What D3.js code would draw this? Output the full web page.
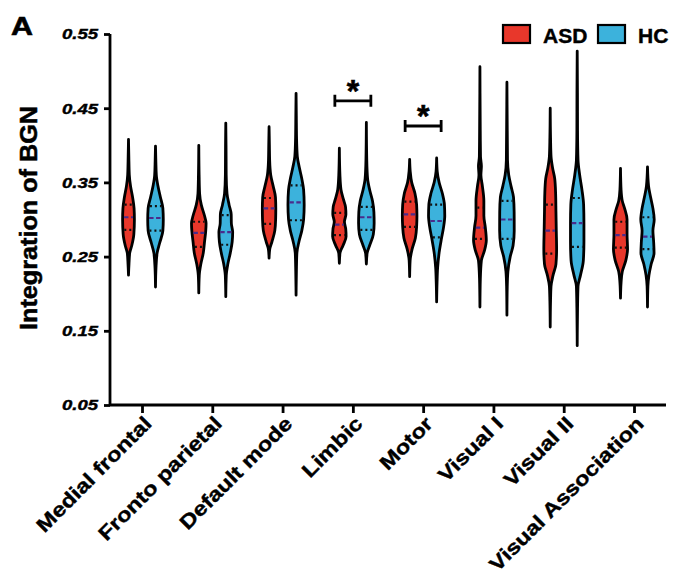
<!DOCTYPE html>
<html>
<head>
<meta charset="utf-8">
<script src="https://cdn.jsdelivr.net/npm/d3@7"></script>
<style>
    body { margin: 0; background: #fff; }
    text { font-family: "Liberation Sans", Arial, sans-serif; }
</style>
</head>
<body>
<div id="violin-container"></div>
<script>
// Networks on the x axis
const categories = ["Medial frontal", "Fronto parietal", "Default mode", "Limbic",
    "Motor", "Visual I", "Visual II", "Visual Association"];
const groups = ["ASD", "HC"];
const groupColors = ["#e8372b", "#3cb2dc"];
const yTicks = [0.05, 0.15, 0.25, 0.35, 0.45, 0.55];

// Summary lines (median, quartiles)
const asdMedian = [0.303, 0.282, 0.315, 0.293, 0.307, 0.289, 0.285, 0.279];
const asdQ1 = [0.286, 0.263, 0.294, 0.279, 0.290, 0.274, 0.254, 0.262];
const asdQ3 = [0.320, 0.297, 0.329, 0.309, 0.324, 0.316, 0.320, 0.297];
const hcMedian = [0.302, 0.283, 0.323, 0.303, 0.298, 0.300, 0.295, 0.277];
const hcQ1 = [0.285, 0.266, 0.299, 0.286, 0.276, 0.274, 0.263, 0.260];
const hcQ3 = [0.318, 0.306, 0.346, 0.317, 0.320, 0.325, 0.329, 0.303];

// Violin outlines: [value, relative density] from min to max
const asdProfiles = [
    [[0.225,0],[0.240,0.06],[0.255,0.15],[0.265,0.4],[0.280,0.65],[0.300,0.72],[0.315,0.68],[0.330,0.5],[0.345,0.25],[0.360,0.1],[0.385,0.04],[0.408,0]],
    [[0.201,0],[0.225,0.06],[0.240,0.25],[0.255,0.55],[0.270,0.7],[0.285,0.85],[0.295,0.89],[0.305,0.7],[0.320,0.3],[0.335,0.1],[0.360,0.04],[0.400,0]],
    [[0.248,0],[0.260,0.08],[0.270,0.35],[0.285,0.7],[0.300,0.8],[0.315,0.82],[0.330,0.78],[0.345,0.5],[0.360,0.2],[0.380,0.07],[0.400,0.04],[0.425,0]],
    [[0.241,0],[0.255,0.08],[0.265,0.45],[0.277,0.82],[0.287,0.78],[0.297,0.62],[0.307,0.8],[0.317,0.75],[0.327,0.5],[0.340,0.2],[0.360,0.07],[0.396,0]],
    [[0.223,0],[0.245,0.06],[0.260,0.3],[0.275,0.7],[0.290,0.85],[0.305,0.89],[0.320,0.85],[0.335,0.65],[0.350,0.25],[0.365,0.07],[0.381,0]],
    [[0.182,0],[0.220,0.05],[0.245,0.18],[0.258,0.55],[0.272,0.78],[0.290,0.65],[0.305,0.48],[0.325,0.48],[0.345,0.3],[0.360,0.12],[0.372,0.18],[0.385,0.07],[0.420,0.04],[0.506,0]],
    [[0.155,0],[0.190,0.04],[0.210,0.1],[0.225,0.35],[0.240,0.7],[0.260,0.78],[0.285,0.74],[0.310,0.7],[0.335,0.66],[0.355,0.55],[0.370,0.28],[0.385,0.1],[0.410,0.04],[0.450,0]],
    [[0.194,0],[0.215,0.07],[0.230,0.22],[0.245,0.65],[0.260,0.86],[0.280,0.8],[0.300,0.8],[0.315,0.5],[0.325,0.22],[0.340,0.07],[0.369,0]]
];
const hcProfiles = [
    [[0.209,0],[0.235,0.06],[0.255,0.2],[0.268,0.5],[0.285,0.9],[0.300,0.95],[0.315,0.9],[0.330,0.6],[0.345,0.3],[0.360,0.1],[0.380,0.04],[0.399,0]],
    [[0.196,0],[0.225,0.06],[0.240,0.25],[0.255,0.55],[0.270,0.78],[0.283,0.84],[0.295,0.68],[0.307,0.66],[0.320,0.4],[0.335,0.15],[0.360,0.05],[0.400,0.03],[0.430,0]],
    [[0.198,0],[0.230,0.04],[0.255,0.1],[0.270,0.35],[0.285,0.7],[0.300,0.92],[0.320,0.99],[0.340,0.92],[0.355,0.7],[0.370,0.4],[0.385,0.15],[0.410,0.06],[0.440,0.03],[0.470,0]],
    [[0.240,0],[0.255,0.1],[0.265,0.4],[0.280,0.85],[0.295,0.95],[0.310,0.92],[0.325,0.75],[0.340,0.4],[0.355,0.15],[0.380,0.05],[0.431,0]],
    [[0.189,0],[0.215,0.05],[0.235,0.12],[0.255,0.3],[0.275,0.6],[0.290,0.85],[0.305,0.99],[0.320,0.95],[0.335,0.7],[0.350,0.3],[0.365,0.07],[0.383,0]],
    [[0.171,0],[0.210,0.04],[0.230,0.12],[0.250,0.4],[0.265,0.75],[0.285,0.89],[0.310,0.88],[0.330,0.8],[0.345,0.5],[0.360,0.22],[0.380,0.07],[0.420,0.04],[0.485,0]],
    [[0.130,0],[0.180,0.04],[0.210,0.1],[0.225,0.4],[0.245,0.75],[0.270,0.82],[0.295,0.82],[0.320,0.78],[0.340,0.58],[0.360,0.3],[0.380,0.1],[0.420,0.04],[0.470,0.03],[0.527,0]],
    [[0.182,0],[0.210,0.05],[0.225,0.18],[0.240,0.45],[0.255,0.8],[0.270,0.75],[0.285,0.66],[0.300,0.82],[0.315,0.66],[0.330,0.38],[0.345,0.13],[0.371,0]]
];

// Significant differences (category, bracket height)
const sigCategories = ["Limbic", "Motor"];
const sigLevels = [0.460, 0.426];

function renderViolinChart() {
    const container = document.getElementById("violin-container");

    // Set up dimensions
    const width = 680;
    const height = 582;
    const marginTop = 34;
    const marginLeft = 110;
    const axisBottom = 405;
    const axisRight = 666;
    const offset = 13.5;   // ASD left, HC right of the tick
    const textStretch = 1.18;

    const svg = d3.create("svg")
        .attr("viewBox", [0, 0, width, height])
        .attr("width", width)
        .attr("height", height);

    // Create scales
    const x = d3.scalePoint()
        .domain(categories)
        .range([142, 634]);
    const y = d3.scaleLinear()
        .domain([0.05, 0.55])
        .range([axisBottom, marginTop]);
    const w = d3.scaleLinear([0, 1], [0, 8.2]);
    const color = d3.scaleOrdinal(groups, groupColors);

    // Build violin records
    const violins = [];
    categories.forEach((c, i) => {
        violins.push({cat: c, group: "ASD", dx: -offset, profile: asdProfiles[i],
            median: asdMedian[i], q1: asdQ1[i], q3: asdQ3[i]});
        violins.push({cat: c, group: "HC", dx: offset, profile: hcProfiles[i],
            median: hcMedian[i], q1: hcQ1[i], q3: hcQ3[i]});
    });

    const area = d3.area()
        .curve(d3.curveMonotoneY)
        .y(d => y(d[0]));

    const vg = svg.append("g")
        .selectAll("g")
        .data(violins)
        .join("g")
        .attr("transform", d => `translate(${x(d.cat) + d.dx},0)`);

    vg.append("path")
        .attr("d", d => area.x0(p => -w(p[1])).x1(p => w(p[1]))(d.profile))
        .attr("fill", d => color(d.group))
        .attr("stroke", "#000")
        .attr("stroke-width", 2.8)
        .attr("stroke-linejoin", "round");

    // Median and quartile lines across the violin
    function halfWidth(d, v) {
        const interp = d3.scaleLinear(d.profile.map(p => p[0]), d.profile.map(p => p[1]));
        return Math.max(w(interp(v)) - 1.3, 1);
    }

    vg.append("line")
        .attr("x1", d => -halfWidth(d, d.median))
        .attr("x2", d => halfWidth(d, d.median))
        .attr("y1", d => y(d.median))
        .attr("y2", d => y(d.median))
        .attr("stroke", "#4a2c8c")
        .attr("stroke-width", 2.2)
        .attr("stroke-dasharray", "4.5,2.5");

    ["q1", "q3"].forEach(k => {
        vg.append("line")
            .attr("x1", d => -halfWidth(d, d[k]))
            .attr("x2", d => halfWidth(d, d[k]))
            .attr("y1", d => y(d[k]))
            .attr("y2", d => y(d[k]))
            .attr("stroke", "#111")
            .attr("stroke-width", 2.2)
            .attr("stroke-dasharray", "2,3");
    });

    // Y axis
    svg.append("g")
        .attr("transform", `translate(${marginLeft},0)`)
        .call(d3.axisLeft(y).tickValues(yTicks).tickSize(6).tickFormat(d3.format(".2f")))
        .call(g => g.selectAll("path, line").attr("stroke", "#000").attr("stroke-width", 2.8))
        .call(g => g.select(".domain").attr("d", `M0,${marginTop}V${axisBottom}`))
        .call(g => g.selectAll("text")
            .attr("x", -12)
            .attr("fill", "#000")
            .attr("stroke", "#000")
            .attr("stroke-width", 0.4)
            .attr("font-family", "Liberation Sans, Arial, sans-serif")
            .attr("font-size", 15)
            .attr("font-weight", "bold")
            .attr("font-style", "italic")
            .attr("textLength", 36)
            .attr("lengthAdjust", "spacingAndGlyphs"));

    // X axis
    svg.append("g")
        .attr("transform", `translate(0,${axisBottom})`)
        .call(d3.axisBottom(x).tickSize(8).tickFormat(""))
        .call(g => g.selectAll("path, line").attr("stroke", "#000").attr("stroke-width", 2.8))
        .call(g => g.select(".domain").attr("d", `M${marginLeft},0H${axisRight}`));

    const xl = svg.append("g")
        .selectAll("text")
        .data(categories)
        .join("text")
        .attr("transform", d => `translate(${x(d) + 6},${axisBottom + 15}) rotate(-45)`)
        .attr("text-anchor", "end")
        .attr("dy", "0.35em")
        .attr("font-size", 20)
        .attr("font-weight", "bold")
        .attr("stroke", "#000")
        .attr("stroke-width", 0.4)
        .text(d => d);

    // Y axis title
    svg.append("text")
        .attr("transform", `translate(37,218) rotate(-90)`)
        .attr("text-anchor", "middle")
        .attr("font-size", 23)
        .attr("font-weight", "bold")
        .attr("stroke", "#000")
        .attr("stroke-width", 0.5)
        .attr("textLength", 224)
        .attr("lengthAdjust", "spacingAndGlyphs")
        .text("Integration of BGN");

    // Panel letter
    svg.append("text")
        .attr("x", 11)
        .attr("y", 35)
        .attr("font-size", 25)
        .attr("font-weight", "bold")
        .attr("stroke", "#000")
        .attr("stroke-width", 0.6)
        .attr("textLength", 22)
        .attr("lengthAdjust", "spacingAndGlyphs")
        .text("A");

    // Significance brackets
    const sig = svg.append("g")
        .selectAll("g")
        .data(sigCategories.map((c, i) => ({cat: c, v: sigLevels[i]})))
        .join("g")
        .attr("transform", d => `translate(${x(d.cat)},${y(d.v)})`);

    sig.append("path")
        .attr("d", "M-18,-6V6M-18,0H18M18,-6V6")
        .attr("fill", "none")
        .attr("stroke", "#000")
        .attr("stroke-width", 2.8);

    sig.append("text")
        .attr("y", 1)
        .attr("text-anchor", "middle")
        .attr("font-size", 32)
        .attr("font-weight", "bold")
        .attr("stroke", "#000")
        .attr("stroke-width", 0.6)
        .text("*");

    // Legend
    const legendX = [503, 598];
    const legend = svg.append("g")
        .selectAll("g")
        .data(groups)
        .join("g")
        .attr("transform", (d, i) => `translate(${legendX[i]},25)`);

    legend.append("rect")
        .attr("width", 27)
        .attr("height", 18)
        .attr("fill", d => color(d))
        .attr("stroke", "#000")
        .attr("stroke-width", 2.2);

    legend.append("text")
        .attr("x", 40)
        .attr("y", 18)
        .attr("font-size", 21)
        .attr("font-weight", "bold")
        .attr("stroke", "#000")
        .attr("stroke-width", 0.4)
        .text(d => d);

    container.appendChild(svg.node());

    // Stretch the rotated category labels to the reference width
    xl.each(function () {
        const len = this.getComputedTextLength();
        d3.select(this)
            .attr("textLength", len * textStretch)
            .attr("lengthAdjust", "spacingAndGlyphs");
    });
}

renderViolinChart();
</script>
</body>
</html>
